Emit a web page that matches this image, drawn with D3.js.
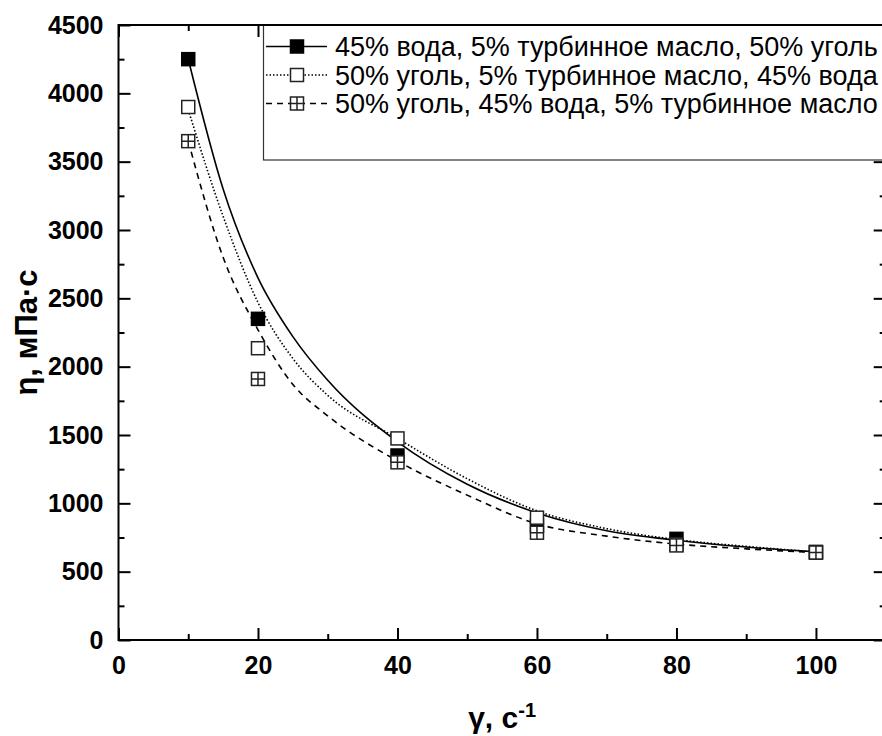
<!DOCTYPE html>
<html>
<head>
<meta charset="utf-8">
<script src="https://cdn.jsdelivr.net/npm/d3@7"></script>
<style>
	body { margin: 0; background: #fff; }
	svg { display: block; font-family: "Liberation Sans", Arial, sans-serif; }
</style>
</head>
<body>
<svg id="chart" width="882" height="736"></svg>
<script>
"use strict";

//
// Data
//
var shearRates = [10, 20, 40, 60, 80, 100];

var seriesNames = [
	"45% вода, 5% турбинное масло, 50% уголь",
	"50% уголь, 5% турбинное масло, 45% вода",
	"50% уголь, 45% вода, 5% турбинное масло"
];

var viscosityA = [4250, 2350, 1350, 835, 740, 640];
var viscosityB = [3900, 2135, 1475, 895, 700, 645];
var viscosityC = [3650, 1910, 1300, 785, 692, 640];

// fitted curves
var fitX = [10, 15, 20, 25, 30, 40, 50, 60, 70, 80, 90, 100];
var fitA = [4250, 3300, 2650, 2220, 1900, 1450, 1140, 930, 800, 730, 680, 645];
var fitB = [3880, 3100, 2470, 2060, 1790, 1475, 1180, 945, 815, 735, 685, 645];
var fitC = [3650, 2800, 2270, 1870, 1640, 1310, 1060, 850, 760, 702, 667, 640];

var xMajorTicks = [0, 20, 40, 60, 80, 100];
var xMinorTicks = [10, 30, 50, 70, 90];
var yMajorTicks = d3.range(0, 4501, 500);
var yMinorTicks = d3.range(250, 4500, 500);

//
// Setup Variables
//
var plotLeft = 118.5, plotRight = 885.7, plotTop = 25, plotBottom = 640;
var markerSize = 13;

var x = d3.scaleLinear().domain([0, 110]).range([plotLeft, plotRight]);
var y = d3.scaleLinear().domain([0, 4500]).range([plotBottom, plotTop]);

var svg = d3.select("#chart");

var series = [
	{ name: seriesNames[0], values: viscosityA, fit: fitA, marker: "filled", dash: null },
	{ name: seriesNames[1], values: viscosityB, fit: fitB, marker: "open", dash: "1.5,2" },
	{ name: seriesNames[2], values: viscosityC, fit: fitC, marker: "cross", dash: "6,5" }
];

//
// Axes
//
function styleAxis(g) {
	g.select(".domain").remove();
	g.selectAll(".tick line").attr("stroke", "#000").attr("stroke-width", 2);
	g.selectAll(".tick text")
		.attr("fill", "#000")
		.style("font-size", "25px")
		.style("font-weight", "bold");
}

svg.append("g")
	.attr("transform", "translate(0," + plotBottom + ")")
	.call(d3.axisBottom(x).tickValues(xMajorTicks).tickSize(-12).tickPadding(16).tickFormat(d3.format("d")))
	.call(styleAxis);
svg.append("g")
	.attr("transform", "translate(0," + plotBottom + ")")
	.call(d3.axisBottom(x).tickValues(xMinorTicks).tickSize(-6).tickFormat(""))
	.call(styleAxis);

svg.append("g")
	.attr("transform", "translate(0," + plotTop + ")")
	.call(d3.axisTop(x).tickValues(xMajorTicks).tickSize(-12).tickFormat(""))
	.call(styleAxis);
svg.append("g")
	.attr("transform", "translate(0," + plotTop + ")")
	.call(d3.axisTop(x).tickValues(xMinorTicks).tickSize(-6).tickFormat(""))
	.call(styleAxis);

svg.append("g")
	.attr("transform", "translate(" + plotLeft + ",0)")
	.call(d3.axisLeft(y).tickValues(yMajorTicks).tickSize(-12).tickPadding(15).tickFormat(d3.format("d")))
	.call(styleAxis);
svg.append("g")
	.attr("transform", "translate(" + plotLeft + ",0)")
	.call(d3.axisLeft(y).tickValues(yMinorTicks).tickSize(-6).tickFormat(""))
	.call(styleAxis);

svg.append("g")
	.attr("transform", "translate(" + plotRight + ",0)")
	.call(d3.axisRight(y).tickValues(yMajorTicks).tickSize(-12).tickFormat(""))
	.call(styleAxis);
svg.append("g")
	.attr("transform", "translate(" + plotRight + ",0)")
	.call(d3.axisRight(y).tickValues(yMinorTicks).tickSize(-6).tickFormat(""))
	.call(styleAxis);

//
// Fitted curves
//
var line = d3.line()
	.x(function(d) { return x(d[0]); })
	.y(function(d) { return y(d[1]); })
	.curve(d3.curveMonotoneX);

svg.append("g")
	.selectAll("path")
	.data(series)
	.enter()
	.append("path")
	.attr("d", function(s) { return line(fitX.map(function(v, i) { return [v, s.fit[i]]; })); })
	.attr("fill", "none")
	.attr("stroke", "#000")
	.attr("stroke-width", 1.6)
	.attr("stroke-dasharray", function(s) { return s.dash; });

//
// Markers
//
function drawMarker(g, kind) {
	var h = markerSize / 2;
	g.append("rect")
		.attr("x", -h).attr("y", -h)
		.attr("width", markerSize).attr("height", markerSize)
		.attr("fill", kind === "filled" ? "#000" : "#fff")
		.attr("stroke", kind === "filled" ? "#000" : "#222")
		.attr("stroke-width", 1.5);
	if (kind === "cross") {
		g.append("path")
			.attr("d", "M0," + (-h) + "V" + h + "M" + (-h) + ",0H" + h)
			.attr("stroke", "#222")
			.attr("stroke-width", 1.5);
	}
}

series.forEach(function(s) {
	svg.append("g")
		.selectAll("g")
		.data(shearRates)
		.enter()
		.append("g")
		.attr("transform", function(d, i) { return "translate(" + x(d) + "," + y(s.values[i]) + ")"; })
		.each(function() { drawMarker(d3.select(this), s.marker); });
});

//
// Legend
//
var legend = svg.append("g");

legend.append("rect")
	.attr("x", 263.5).attr("y", plotTop)
	.attr("width", plotRight - 263.5).attr("height", 135)
	.attr("fill", "#fff")
	.attr("stroke", "#333")
	.attr("stroke-width", 1.2);

var rowY = [46.5, 75, 103.5];

series.forEach(function(s, i) {
	var row = legend.append("g").attr("transform", "translate(0," + rowY[i] + ")");
	row.append("line")
		.attr("x1", 266).attr("x2", 327)
		.attr("stroke", "#000")
		.attr("stroke-width", 1.6)
		.attr("stroke-dasharray", s.dash);
	drawMarker(row.append("g").attr("transform", "translate(297,0)"), s.marker);
	row.append("text")
		.attr("x", 335)
		.attr("dy", "0.36em")
		.style("font-size", "27px")
		.text(s.name);
});

//
// Frame
//
svg.append("rect")
	.attr("x", plotLeft).attr("y", plotTop)
	.attr("width", plotRight - plotLeft).attr("height", plotBottom - plotTop)
	.attr("fill", "none")
	.attr("stroke", "#000")
	.attr("stroke-width", 2);

//
// Axis titles
//
svg.append("text")
	.attr("x", (plotLeft + plotRight) / 2)
	.attr("y", 728)
	.attr("text-anchor", "middle")
	.style("font-size", "30px")
	.style("font-weight", "bold")
	.text("γ, с")
	.append("tspan")
	.attr("dy", "-0.55em")
	.style("font-size", "20px")
	.text("-1");

svg.append("text")
	.attr("transform", "translate(37," + ((plotTop + plotBottom) / 2) + ") rotate(-90)")
	.attr("text-anchor", "middle")
	.style("font-size", "31px")
	.style("font-weight", "bold")
	.text("η, мПа·с");
</script>
</body>
</html>
